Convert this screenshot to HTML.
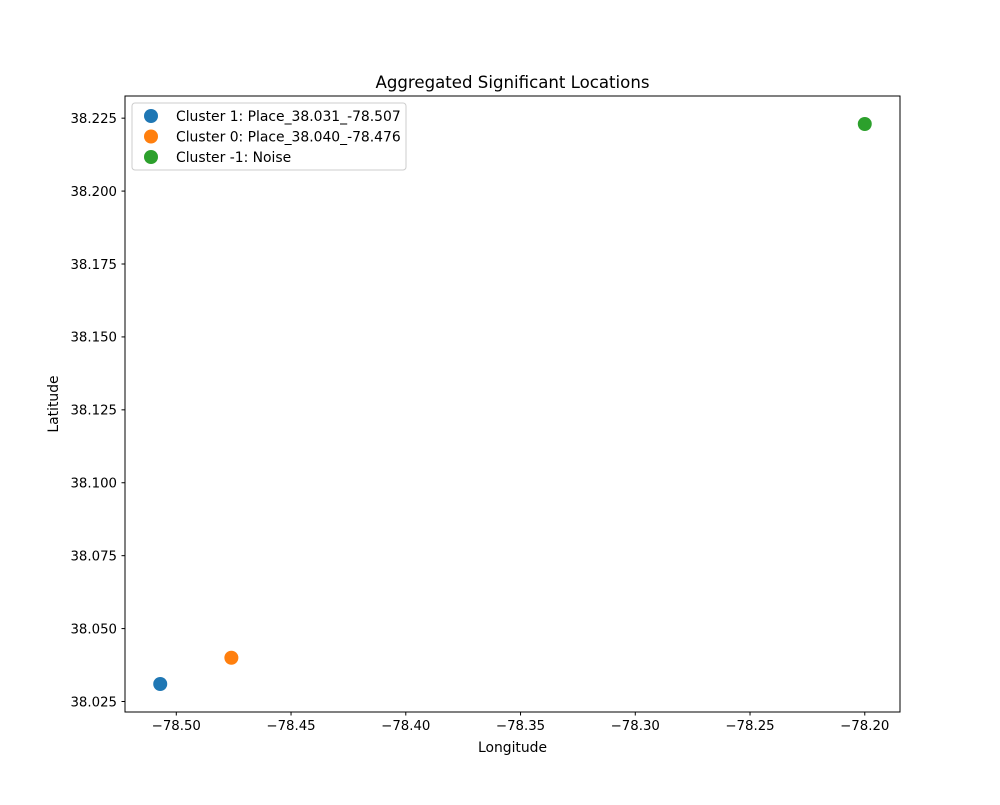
<!DOCTYPE html>
<html><head><meta charset="utf-8"><style>
body{margin:0;background:#fff;font-family:"Liberation Sans","DejaVu Sans",sans-serif;}
svg text{font-family:"DejaVu Sans","Liberation Sans",sans-serif;}
</style></head><body>
<svg id="chart" width="1000" height="800" viewBox="0 0 1000 800" xmlns="http://www.w3.org/2000/svg">
<rect width="1000" height="800" fill="#fff"/>
<text x="512.5" y="88" font-size="16.6" text-anchor="middle">Aggregated Significant Locations</text>
<g id="xticks"></g>
<g id="yticks"></g>
<g id="points"></g>
<rect x="125" y="96" width="775" height="616" fill="none" stroke="#000" stroke-width="1"/>
<text x="512.5" y="752" font-size="13.9" text-anchor="middle">Longitude</text>
<text transform="translate(58,404) rotate(-90)" font-size="13.9" text-anchor="middle">Latitude</text>
<g id="legend">
<rect x="132" y="103" width="274" height="67" rx="3" fill="#fff" fill-opacity="0.8" stroke="#ccc"/>
</g>
</svg>
<script>
const labels=["Cluster 1: Place_38.031_-78.507","Cluster 0: Place_38.040_-78.476","Cluster -1: Noise"];
const lons=[-78.507,-78.476,-78.200];
const lats=[38.031,38.040,38.223];
const colors=["#1f77b4","#ff7f0e","#2ca02c"];
const xTickVals=[-78.50,-78.45,-78.40,-78.35,-78.30,-78.25,-78.20];
const yTickVals=[38.025,38.050,38.075,38.100,38.125,38.150,38.175,38.200,38.225];
const NS="http://www.w3.org/2000/svg";
const L=125,R=900,T=96,B=712;
const xmn=Math.min(...lons),xmx=Math.max(...lons),ymn=Math.min(...lats),ymx=Math.max(...lats);
const x0=xmn-(xmx-xmn)*0.05,x1=xmx+(xmx-xmn)*0.05,y0=ymn-(ymx-ymn)*0.05,y1=ymx+(ymx-ymn)*0.05;
const sx=v=>L+(v-x0)/(x1-x0)*(R-L), sy=v=>B-(v-y0)/(y1-y0)*(B-T);
function mk(t,a,p){const e=document.createElementNS(NS,t);for(const k in a)e.setAttribute(k,a[k]);p.appendChild(e);return e;}
const xg=document.getElementById('xticks');
xTickVals.forEach(v=>{const x=sx(v);
 const l=mk('line',{x1:x,x2:x,y1:B,y2:B+3.5,stroke:'#000'},xg);
 
 
 const t=mk('text',{x:x,y:B+18,'font-size':'13.3','text-anchor':'middle'},xg);t.textContent='\u2212'+Math.abs(v).toFixed(2);
 
 });
const yg=document.getElementById('yticks');
yTickVals.forEach(v=>{const y=sy(v);
 const l=mk('line',{x1:L-3.5,x2:L,y1:y,y2:y,stroke:'#000'},yg);
 
 
 const t=mk('text',{x:L-8,y:y+4.8,'font-size':'13.3','text-anchor':'end'},yg);t.textContent=v.toFixed(3);
 
 });
const pg=document.getElementById('points');
lons.forEach((v,i)=>{const c=mk('circle',{cx:sx(v),cy:sy(lats[i]),r:7,fill:colors[i]},pg);
 
 });
const lg=document.getElementById('legend');
labels.forEach((s,i)=>{const y=116+i*20.5;
 const c=mk('circle',{cx:151,cy:y,r:7,fill:colors[i]},lg);
 
 
 const t=mk('text',{x:176,y:y+4.8,'font-size':'13.9'},lg);t.textContent=s;
 
 });
</script>
</body></html>
